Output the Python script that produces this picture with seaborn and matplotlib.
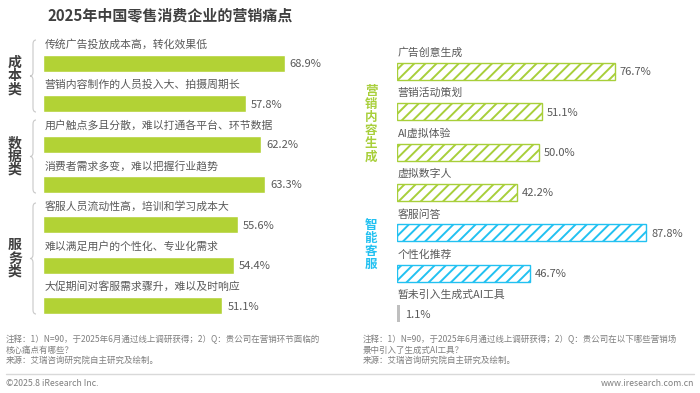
import numpy as np
import pandas as pd
import matplotlib
matplotlib.use("Agg")
import matplotlib.pyplot as plt
from matplotlib.path import Path
from matplotlib.patches import PathPatch
import seaborn as sns

# chart data
left_labels = ["传统广告投放成本高，转化效果低", "营销内容制作的人员投入大、拍摄周期长",
               "用户触点多且分散，难以打通各平台、环节数据", "消费者需求多变，难以把握行业趋势",
               "客服人员流动性高，培训和学习成本大", "难以满足用户的个性化、专业化需求",
               "大促期间对客服需求骤升，难以及时响应"]
left_values = [68.9, 57.8, 62.2, 63.3, 55.6, 54.4, 51.1]
left_groups = ["成本类", "数据类", "服务类"]

right_labels = ["广告创意生成", "营销活动策划", "AI虚拟体验", "虚拟数字人",
                "客服问答", "个性化推荐", "暂未引入生成式AI工具"]
right_values = [76.7, 51.1, 50.0, 42.2, 87.8, 46.7, 1.1]
right_types = ["营销内容生成"] * 4 + ["智能客服"] * 2 + ["暂未引入"]

sns.set_theme(style="white")
plt.rcParams["font.family"] = ["Noto Sans CJK SC", "DejaVu Sans"]
plt.rcParams["hatch.linewidth"] = 1.4

W, H = 700, 393
fig = plt.figure(figsize=(7, 3.93), dpi=100)
fig.patch.set_facecolor("white")

def px_axes(x0, y0, x1, y1):
    # axes placed in pixel coords (origin top-left)
    return fig.add_axes([x0 / W, 1 - y1 / H, (x1 - x0) / W, (y1 - y0) / H])

text_grey = "#595959"
green = "#b2d235"
hatch_green = "#a8cf3a"
blue = "#22c1f1"

# left panel
df_left = pd.DataFrame({"label": left_labels, "value": left_values})
axl = px_axes(43, 43.3, 350, 325.7)
sns.barplot(data=df_left, x="value", y="label", color=green, width=0.42,
            saturation=1, ax=axl)
axl.set_xlim(0, 307 / 3.51)
axl.set_ylim(6.5, -0.5)
axl.axis("off")
for i, (lab, v) in enumerate(zip(left_labels, left_values)):
    axl.text(0.4, i - 0.46, lab, fontsize=7.8, color=text_grey, va="center", ha="left")
    axl.annotate(f"{v:.1f}%", (v, i), xytext=(5, -1), textcoords="offset pixels",
                 fontsize=8, color=text_grey, va="center", ha="left")

# right panel
df_right = pd.DataFrame({"label": right_labels, "value": right_values, "type": right_types})
axr = px_axes(397, 51.3, 690, 333.7)
sns.barplot(data=df_right, x="value", y="label", hue="type", width=0.42, saturation=1,
            palette={"营销内容生成": "white", "智能客服": "white", "暂未引入": "#bfbfbf"},
            dodge=False, legend=False, ax=axr)
axr.set_xlim(0, 293 / 2.84)
axr.set_ylim(6.5, -0.5)
axr.axis("off")
edge_map = {"营销内容生成": hatch_green, "智能客服": blue}
for bar in axr.patches:
    if bar.get_width() <= 0:
        continue
    idx = int(round(bar.get_y() + bar.get_height() / 2))
    t = right_types[idx]
    if t in edge_map:
        bar.set_edgecolor(edge_map[t])
        bar.set_hatch("///")
        bar.set_linewidth(1.0)
    else:
        bar.set_edgecolor("none")
for i, (lab, v) in enumerate(zip(right_labels, right_values)):
    axr.text(0.3, i - 0.46, lab, fontsize=7.8, color=text_grey, va="center", ha="left")
    axr.annotate(f"{v:.1f}%", (v, i), xytext=(5, -1), textcoords="offset pixels",
                 fontsize=8, color=text_grey, va="center", ha="left")

# overlay for title, braces, notes
ov = fig.add_axes([0, 0, 1, 1], facecolor="none")
ov.set_xlim(0, W)
ov.set_ylim(H, 0)
ov.axis("off")

ov.text(48, 15, "2025年中国零售消费企业的营销痛点", fontsize=10.8, fontweight="bold",
        color="#404040", va="center", ha="left")

def brace(x, top, bot, c="#c8c8c8"):
    mid = (top + bot) / 2
    verts = [(x + 3, top), (x, top), (x, top + 4),
             (x, mid - 4), (x, mid), (x - 3, mid),
             (x, mid), (x, mid + 4),
             (x, bot - 4), (x, bot), (x + 3, bot)]
    codes = [Path.MOVETO, Path.CURVE3, Path.CURVE3,
             Path.LINETO, Path.CURVE3, Path.CURVE3,
             Path.CURVE3, Path.CURVE3,
             Path.LINETO, Path.CURVE3, Path.CURVE3]
    ov.add_patch(PathPatch(Path(verts, codes), fill=False, edgecolor=c, lw=0.8))

for (top, bot), g in zip([(40, 112), (120, 193), (203, 314)], left_groups):
    brace(33, top, bot)
    ov.text(15, (top + bot) / 2, "\n".join(g), fontsize=10, fontweight="bold",
            color="#404040", va="center", ha="center", linespacing=0.92)

ov.text(371, 124, "\n".join("营销内容生成"), fontsize=9, fontweight="bold",
        color=hatch_green, va="center", ha="center", linespacing=1.02)
ov.text(371, 245, "\n".join("智能客服"), fontsize=9, fontweight="bold",
        color=blue, va="center", ha="center", linespacing=1.02)

note_grey = "#7f7f7f"
nfs = 6.1
ov.text(6, 339.5, "注释：1）N=90，于2025年6月通过线上调研获得；2）Q：贵公司在营销环节面临的",
        fontsize=nfs, color=note_grey, va="center")
ov.text(6, 350, "核心痛点有哪些？", fontsize=nfs, color=note_grey, va="center")
ov.text(6, 360.5, "来源：艾瑞咨询研究院自主研究及绘制。", fontsize=nfs, color=note_grey, va="center")
ov.text(363, 339.5, "注释：1）N=90，于2025年6月通过线上调研获得；2）Q：贵公司在以下哪些营销场",
        fontsize=nfs, color=note_grey, va="center")
ov.text(363, 350, "景中引入了生成式AI工具？", fontsize=nfs, color=note_grey, va="center")
ov.text(363, 360.5, "来源：艾瑞咨询研究院自主研究及绘制。", fontsize=nfs, color=note_grey, va="center")
ov.plot([6, 694], [374, 374], color="#d9d9d9", lw=1)
ov.text(6, 384, "©2025.8 iResearch Inc.", fontsize=6.3, color=note_grey, va="center")
ov.text(694, 384, "www.iresearch.com.cn", fontsize=6.3, color=note_grey, va="center", ha="right")

fig.savefig("out.png", dpi=100, facecolor="white")
